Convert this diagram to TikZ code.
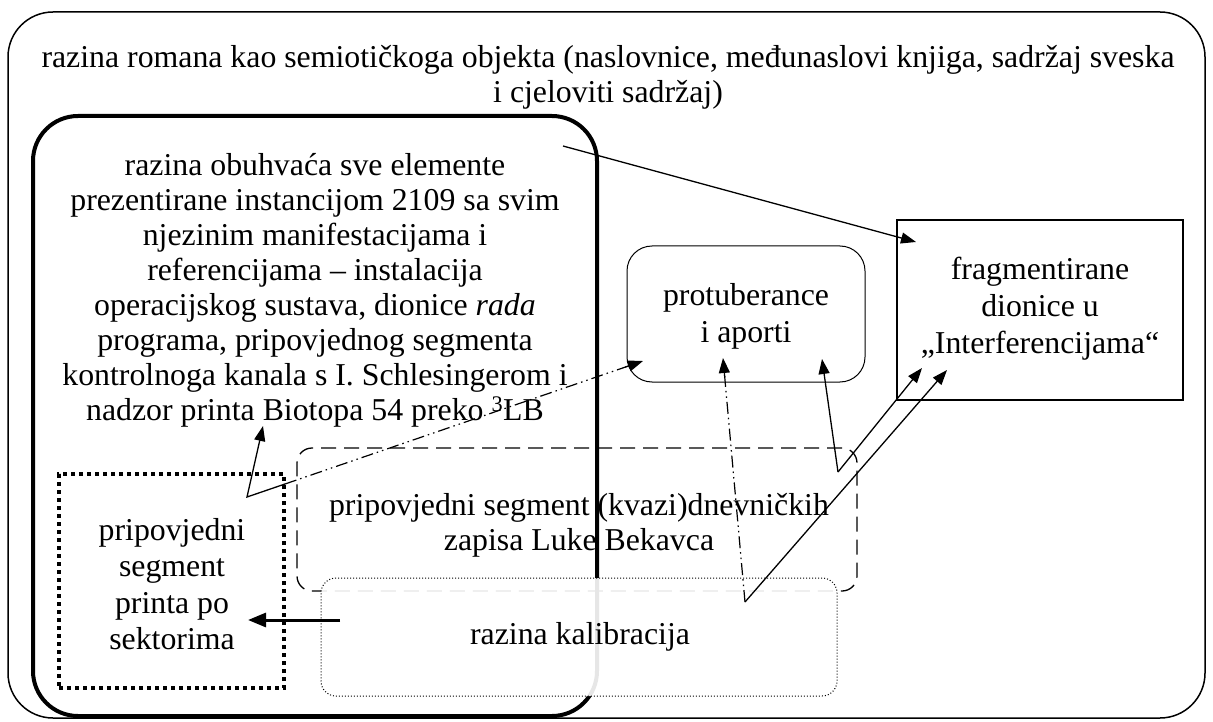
\documentclass[tikz,border=0pt]{standalone}
\usepackage{fontspec}
\setmainfont{Liberation Serif}
\usetikzlibrary{arrows.meta,calc}
\begin{document}
\begin{tikzpicture}[x=1pt,y=-1pt,
  box/.style={draw,inner sep=0pt,outer sep=0pt,rectangle},
  txt/.style={align=center,inner sep=0pt,font=\fontsize{31.8}{35}\selectfont},
  arr/.style={line width=1.3pt,-{Triangle[length=15pt,width=11pt]}},
  ddot/.style={line width=1.2pt,dash pattern=on 12pt off 4pt on 1.5pt off 4pt on 1.5pt off 4pt},
]
\useasboundingbox (0,0) rectangle (1213,722);
% outer
\node[box,line width=1.5pt,rounded corners=45pt,minimum width=1197pt,minimum height=706pt] (outer) at (606.5,365) {};
\node[txt] (title) at (608,77) {razina romana kao semiotičkoga objekta (naslovnice, međunaslovi knjiga, sadržaj sveska\\ i cjeloviti sadržaj)};
% thick box
\node[box,line width=4pt,rounded corners=45pt,minimum width=564pt,minimum height=600pt] (thick) at (315,416) {};
\node[txt] (thicktxt) at (315,290) {razina obuhvaća sve elemente\\ prezentirane instancijom 2109 sa svim\\ njezinim manifestacijama i\\ referencijama – instalacija\\ operacijskog sustava, dionice \textit{rada}\\ programa, pripovjednog segmenta\\ kontrolnoga kanala s I. Schlesingerom i\\ nadzor printa Biotopa 54 preko \textsuperscript{3}LB};
% dotted thick box
\node[box,line width=4pt,dash pattern=on 4pt off 4pt,minimum width=225pt,minimum height=214pt] (sect) at (171.5,581) {};
\node[txt,font=\fontsize{31.8}{36.5}\selectfont] (secttxt) at (172,584) {pripovjedni\\ segment\\ printa po\\ sektorima};
% protuberance
\node[box,line width=1pt,rounded corners=25pt,minimum width=238pt,minimum height=136pt] (prot) at (746,314) {};
\node[txt,font=\fontsize{31.8}{37}\selectfont] (prottxt) at (746,316) {protuberance\\ i aporti};
% fragmentirane
\node[box,line width=2.2pt,minimum width=286pt,minimum height=180pt] (frag) at (1040,310) {};
\node[txt,font=\fontsize{31.8}{37}\selectfont] (fragtxt) at (1040,309) {fragmentirane\\ dionice u\\ „Interferencijama“};
% dashed box
\node[box,line width=1.3pt,dash pattern=on 15pt off 8pt,rounded corners=15pt,minimum width=560pt,minimum height=143pt] (dnev) at (577,519.5) {};
\node[txt] (dnevtxt) at (579,525) {pripovjedni segment (kvazi)dnevničkih\\ zapisa Luke Bekavca};
% kalibracija box (semi-transparent)
\node[box,line width=1pt,dash pattern=on 1pt off 2pt,rounded corners=15pt,fill=white,fill opacity=0.9,minimum width=516pt,minimum height=118pt] (kal) at (579,637) {};
\node[txt] (kaltxt) at (580,637) {razina kalibracija};
% coordinates
\coordinate (a1s) at (563,146);
\coordinate (a1e) at (916,242);
\coordinate (c1) at (285,484);
\coordinate (c2) at (247,497);
\coordinate (c3) at (263,426);
\coordinate (p1) at (643,361);
\coordinate (k) at (745,602);
\coordinate (p2) at (723,358);
\coordinate (v) at (838,472);
\coordinate (p3) at (822,359);
\coordinate (f1) at (922,368);
\coordinate (f2) at (947,370);
\coordinate (t1) at (340,620);
\coordinate (t2) at (248,620);
% arrows
\draw[arr] (a1s) -- (a1e);
\draw[line width=1.3pt,-{Triangle[length=15pt,width=11pt]}] (c1) -- (c2) -- (c3);
\draw[ddot] (c1) -- ($(c1)!0.96!(p1)$);
\draw[line width=1.2pt,-{Triangle[length=15pt,width=11pt]}] ($(c1)!0.95!(p1)$) -- (p1);
\draw[ddot] (k) -- ($(k)!0.93!(p2)$);
\draw[line width=1.2pt,-{Triangle[length=15pt,width=11pt]}] ($(k)!0.92!(p2)$) -- (p2);
\draw[arr] (v) -- (p3);
\draw[arr] (v) -- (f1);
\draw[arr] (k) -- (f2);
\draw[line width=3pt,-{Triangle[length=18pt,width=14pt]}] (t1) -- (t2);
\end{tikzpicture}
\end{document}
